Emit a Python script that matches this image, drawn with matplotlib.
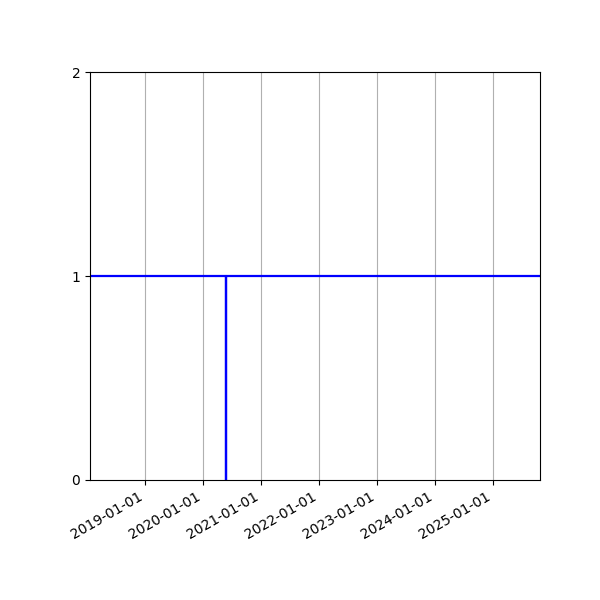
import matplotlib
matplotlib.use("Agg")
import matplotlib.pyplot as plt
import matplotlib.dates as mdates
import numpy as np

dates = np.array(["2018-01-19", "2020-05-23", "2020-05-23", "2020-05-23", "2025-10-27"], dtype="datetime64[D]")
values = [1, 1, 0, 1, 1]
x_start = np.datetime64("2018-01-19")
x_end = np.datetime64("2025-10-27")
yticks = [0, 1, 2]

fig, ax = plt.subplots(figsize=(6, 6), dpi=100)
fig.subplots_adjust(left=0.15, right=0.9, top=0.88, bottom=0.2)
ax.plot(dates, values, color="blue", linewidth=1.6)
ax.set_xlim(x_start, x_end)
ax.set_ylim(0, 2)
ax.set_yticks(yticks)
ax.xaxis.set_major_locator(mdates.YearLocator())
ax.xaxis.set_major_formatter(mdates.DateFormatter("%Y-%m-%d"))
ax.grid(axis="x", color="#b0b0b0")
fig.autofmt_xdate()
fig.savefig("out.png")
